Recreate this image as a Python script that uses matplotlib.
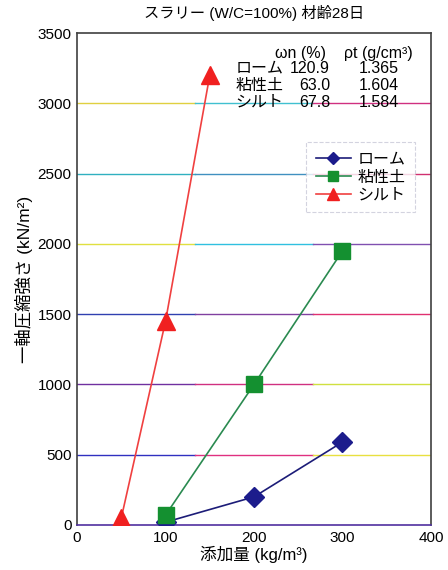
import matplotlib
matplotlib.use("Agg")
import matplotlib.pyplot as plt

plt.rcParams['font.family'] = ['Liberation Sans', 'Noto Sans CJK JP', 'DejaVu Sans']

# Data
loam_x = [100, 200, 300]
loam_y = [20, 200, 590]
clay_x = [100, 200, 300]
clay_y = [70, 1000, 1950]
silt_x = [50, 100, 150]
silt_y = [50, 1450, 3200]
labels = ['ローム', '粘性土', 'シルト']
wn = ['120.9', '63.0', '67.8']
rho = ['1.365', '1.604', '1.584']
xticks = [0, 100, 200, 300, 400]
yticks = [0, 500, 1000, 1500, 2000, 2500, 3000, 3500]

fig = plt.figure(figsize=(4.48, 5.70), dpi=100)
ax = fig.add_axes([0.172, 0.079, 0.790, 0.863])

# coloured grid lines (scanned look)
grid_colors = {
    500: ['#3030c0', '#e03080', '#e8e040'],
    1000: ['#7030a0', '#d03080', '#d0e040'],
    1500: ['#3040b0', '#8040a0', '#e03070'],
    2000: ['#e0e040', '#30c0e0', '#8050b0'],
    2500: ['#30b0c0', '#4090c0', '#d03070'],
    3000: ['#e0d040', '#40c0d0', '#d03080'],
}
for yv, cols in grid_colors.items():
    for i, c in enumerate(cols):
        ax.axhline(yv, xmin=i / 3, xmax=(i + 1) / 3, color=c, lw=1.0, zorder=1)

ax.plot(loam_x, loam_y, color='#1c1c78', lw=1.2, marker='D', ms=10,
        markerfacecolor='#1c1c8c', markeredgecolor='#1c1c8c', label=labels[0], zorder=3)
ax.plot(clay_x, clay_y, color='#2a8a50', lw=1.2, marker='s', ms=12,
        markerfacecolor='#149030', markeredgecolor='#149030', label=labels[1], zorder=4)
ax.plot(silt_x, silt_y, color='#f04040', lw=1.2, marker='^', ms=13,
        markerfacecolor='#f02020', markeredgecolor='#f02020', label=labels[2], zorder=4)

ax.set_xlim(0, 400)
ax.set_ylim(0, 3500)
ax.set_xticks(xticks)
ax.set_yticks(yticks)
ax.tick_params(labelsize=11, length=0, pad=4)
for s in ax.spines.values():
    s.set_color('#404040')
    s.set_linewidth(1.2)
ax.spines['bottom'].set_color('#5030a0')

ax.set_xlabel('添加量 (kg/m³)', fontsize=12, labelpad=1)
ax.set_ylabel('一軸圧縮強さ (kN/m²)', fontsize=12.5, labelpad=3)
fig.text(0.567, 0.978, 'スラリー (W/C=100%) 材齢28日', ha='center', va='center', fontsize=11)

# property table
ax.text(252, 3357, 'ωn (%)', ha='center', va='center', fontsize=11.5)
ax.text(341, 3357, 'ρt (g/cm³)', ha='center', va='center', fontsize=11.5)
row_y = [3250, 3130, 3009]
for lab, a, b, yv in zip(labels, wn, rho, row_y):
    ax.text(179, yv, lab, ha='left', va='center', fontsize=11.5, zorder=5)
    ax.text(286, yv, a, ha='right', va='center', fontsize=11.5, zorder=5)
    ax.text(341, yv, b, ha='center', va='center', fontsize=11.5, zorder=5)

leg = ax.legend(loc='upper left', bbox_to_anchor=(0.625, 0.795), fontsize=11.5,
                frameon=True, fancybox=False, handlelength=2.2, borderpad=0.6,
                labelspacing=0.2, handletextpad=0.4, markerscale=0.65)
leg.get_frame().set_edgecolor('#c8c8d8')
leg.get_frame().set_linestyle('--')
leg.get_frame().set_linewidth(0.8)

fig.savefig('out.png', dpi=100)
